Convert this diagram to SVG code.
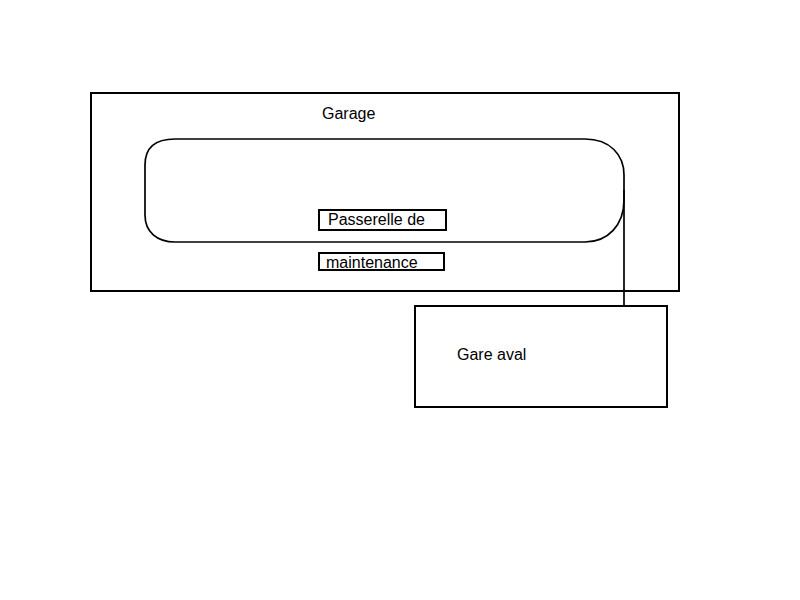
<svg xmlns="http://www.w3.org/2000/svg" width="800" height="600" viewBox="0 0 800 600">
<style>
.box{fill:none;stroke:#000;stroke-width:2}
.thin{fill:none;stroke:#000;stroke-width:1.7}
text{font-family:"Liberation Sans",Arial,sans-serif;font-size:16px;fill:#000}
</style>
<rect width="800" height="600" fill="#fff"/>
<g id="garage">
<rect class="box" x="91" y="93" width="588" height="198"/>
<text x="322" y="119">Garage</text>
</g>
<g id="loop">
<path class="thin" d="M175,139 L585,139 C610,139 624,155 624,175 L624,200 C624,225 608,242 585,242 L175,242 C157,242 145,232 145,215 L145,165 C145,148 155,139 175,139 Z"/>
</g>
<g id="passerelle">
<rect class="box" x="319" y="210" width="127" height="20"/>
<text x="328" y="225">Passerelle de</text>
</g>
<g id="maintenance">
<rect class="box" x="319" y="253" width="125" height="17"/>
<text x="326" y="268">maintenance</text>
</g>
<g id="gare-aval">
<rect class="box" x="415" y="306" width="252" height="101"/>
<text x="457" y="360">Gare aval</text>
</g>
<g id="connectors">
<line class="thin" x1="624" y1="190" x2="624" y2="306"/>
</g>
</svg>
